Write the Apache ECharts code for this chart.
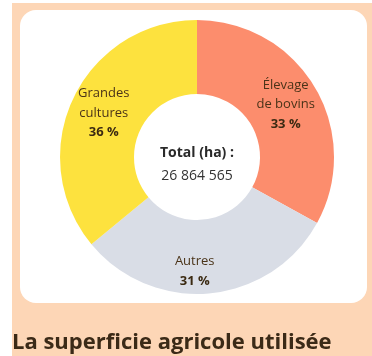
<!DOCTYPE html>
<html>
<head>
<meta charset="utf-8">
<script src="https://cdn.jsdelivr.net/npm/echarts@6/dist/echarts.min.js"></script>
<style>
  html, body { margin: 0; padding: 0; background: #ffffff; }
  #chart { width: 372px; height: 356px; }
</style>
</head>
<body>
<div id="chart"></div>
<script>
// Répartition de la superficie agricole utilisée
const categories = ['Élevage\nde bovins', 'Autres', 'Grandes\ncultures'];
const shares = [33, 31, 36];
const colors = ['#fc8d6d', '#d9dde6', '#fde23e'];
const totalLabel = 'Total (ha) :';
const totalValue = '26 864 565';
const titleText = 'La superficie agricole utilisée';

const chart = echarts.init(document.getElementById('chart'));
const fontFam = '"Open Sans", "Noto Sans", sans-serif';

chart.setOption({
  animation: false,
  backgroundColor: '#ffffff',
  graphic: [
    { type: 'rect', z: -10, shape: { x: 12, y: 3, width: 360, height: 353 }, style: { fill: '#fdd6b6' } },
    { type: 'rect', z: -9, shape: { x: 20, y: 10, width: 347, height: 293, r: 16 }, style: { fill: '#ffffff' } },
    { type: 'text', z: 10, style: { x: 12, y: 343, text: titleText, verticalAlign: 'middle', font: 'bold 22px ' + fontFam, fill: '#3b2a17' } },
    { type: 'text', z: 10, style: { x: 197, y: 153, text: totalLabel, align: 'center', verticalAlign: 'middle', font: 'bold 14px ' + fontFam, fill: '#2a2a2a' } },
    { type: 'text', z: 10, style: { x: 197, y: 176, text: totalValue, align: 'center', verticalAlign: 'middle', font: '14px ' + fontFam, fill: '#333333' } }
  ],
  series: [{
    type: 'pie',
    center: [197, 157],
    radius: [63, 137],
    startAngle: 90,
    clockwise: true,
    silent: true,
    label: {
      show: true,
      position: 'inside',
      formatter: p => p.name + '\n{b|' + p.value + ' %}',
      fontFamily: fontFam,
      fontSize: 13,
      lineHeight: 19.5,
      color: '#4a3318',
      rich: { b: { fontFamily: fontFam, fontSize: 13, fontWeight: 'bold', lineHeight: 19.5, color: '#3b2a12' } }
    },
    labelLine: { show: false },
    data: categories.map((c, i) => ({
      name: c,
      value: shares[i],
      itemStyle: { color: colors[i] },
      label: i === 1 ? { offset: [-12, 12] } : {}
    }))
  }]
});
</script>
</body>
</html>
